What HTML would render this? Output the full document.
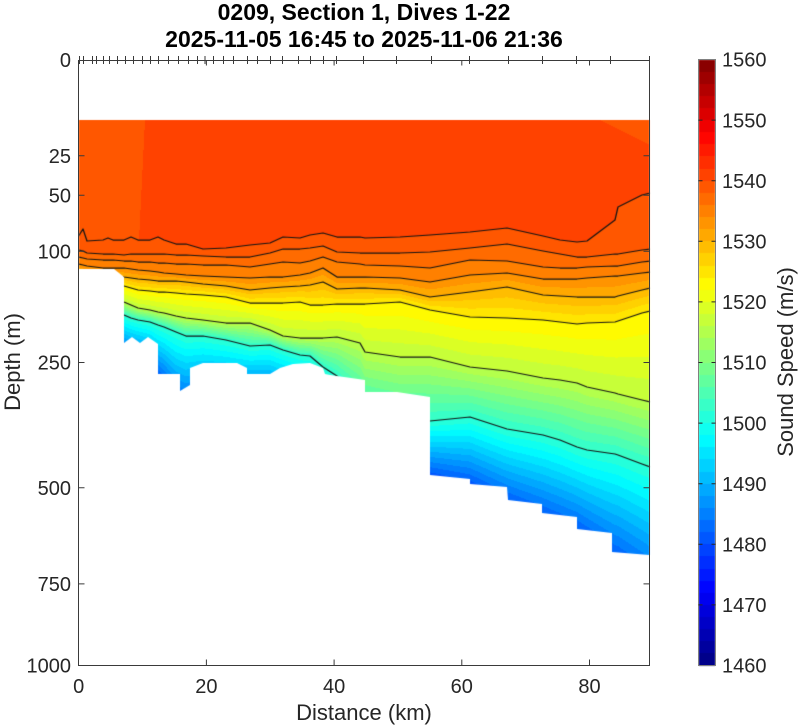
<!DOCTYPE html>
<html><head><meta charset="utf-8">
<style>
html,body{margin:0;padding:0;background:#fff;}
#wrap{position:relative;width:800px;height:725px;overflow:hidden;background:#fff;}
canvas,svg{position:absolute;left:0;top:0;}
text{font-family:"Liberation Sans",Arial,sans-serif;fill:#262626;}
</style></head><body>
<div id="wrap">
<canvas id="c" width="800" height="725"></canvas>
<svg width="800" height="725" viewBox="0 0 800 725" xmlns="http://www.w3.org/2000/svg">
<!-- title -->
<text x="364" y="20" text-anchor="middle" font-size="23" font-weight="bold" style="fill:#000">0209, Section 1, Dives 1-22</text>
<text x="364" y="47" text-anchor="middle" font-size="23" font-weight="bold" style="fill:#000">2025-11-05 16:45 to 2025-11-06 21:36</text>
<!-- axes box -->
<g stroke="#3a3a3a" stroke-width="1" fill="none">
<path d="M78.5 60.5 H649.5 V665.5 H78.5 Z"/>
<path d="M78.5 155.7h6M78.5 195.3h6M78.5 251.3h6M78.5 362.5h6M78.5 487.8h6M78.5 583.9h6"/>
<path d="M649.5 155.7h-6M649.5 195.3h-6M649.5 251.3h-6M649.5 362.5h-6M649.5 487.8h-6M649.5 583.9h-6"/>
<path d="M206.4 665.5v-6M334.1 665.5v-6M461.8 665.5v-6M589.5 665.5v-6"/>
<path d="M206.4 60.5v5M334.1 60.5v5M461.8 60.5v5M589.5 60.5v5"/>
<path d="M79.5 56v8M83.5 56v8M92.5 56v8M96.5 56v8M103.5 56v8M109.5 56v8M117.5 56v8M125.5 56v8M133.5 56v8M142.5 56v8M150.5 56v8M158.5 56v8M168.5 56v8M178.5 56v8M188.5 56v8M197.5 56v8M205 56v8M213.5 56v8M223.5 56v8M233.5 56v8M247.5 56v8M257.5 56v8M270.5 56v8M282.5 56v8M298.5 56v8M310.5 56v8M323.5 56v8M336.5 56v8M363.5 56v8M396.5 56v8M431.5 56v8M469.5 56v8M508.5 56v8M542.5 56v8M576.5 56v8M610.5 56v8M649.5 56v8"/>
</g>
<g font-size="20" text-anchor="end">
<text x="71" y="67.2">0</text>
<text x="71" y="162.9">25</text>
<text x="71" y="202.5">50</text>
<text x="71" y="258.5">100</text>
<text x="71" y="369.7">250</text>
<text x="71" y="495">500</text>
<text x="71" y="591.1">750</text>
<text x="71" y="672.7">1000</text>
</g>
<g font-size="20" text-anchor="middle">
<text x="78.7" y="693">0</text>
<text x="206.4" y="693">20</text>
<text x="334.1" y="693">40</text>
<text x="461.8" y="693">60</text>
<text x="589.5" y="693">80</text>
</g>
<text x="364" y="720" text-anchor="middle" font-size="22">Distance (km)</text>
<text transform="translate(20,362) rotate(-90)" text-anchor="middle" font-size="22">Depth (m)</text>
<rect x="698.5" y="59.5" width="17" height="606" fill="none" stroke="#808080" stroke-width="1"/>
<g stroke="#262626" stroke-width="1">
<path d="M698.5 604.9h4M698.5 544.3h4M698.5 483.7h4M698.5 423.1h4M698.5 362.5h4M698.5 301.9h4M698.5 241.3h4M698.5 180.7h4M698.5 120.1h4"/>
<path d="M715.5 604.9h-4M715.5 544.3h-4M715.5 483.7h-4M715.5 423.1h-4M715.5 362.5h-4M715.5 301.9h-4M715.5 241.3h-4M715.5 180.7h-4M715.5 120.1h-4"/>
</g>
<g font-size="20" text-anchor="start">
<text x="722" y="672.7">1460</text>
<text x="722" y="612.1">1470</text>
<text x="722" y="551.5">1480</text>
<text x="722" y="490.9">1490</text>
<text x="722" y="430.3">1500</text>
<text x="722" y="369.7">1510</text>
<text x="722" y="309.1">1520</text>
<text x="722" y="248.5">1530</text>
<text x="722" y="187.9">1540</text>
<text x="722" y="127.3">1550</text>
<text x="722" y="66.7">1560</text>
</g>
<text transform="translate(793,362) rotate(-90)" text-anchor="middle" font-size="22">Sound Speed (m/s)</text>
</svg>
</div>
<script>
(function(){
var cv=document.getElementById('c');var ctx=cv.getContext('2d');
var LV=[1540,1538,1536,1534,1530,1524,1516,1502,1486];
var S=[
[78,237,250,257,264,272,280,290,300,330],
[83,229,251,258,265,272,280,290,300,330],
[87,241,253,259,266,273,281,291,301,331],
[103,240,254,260,268,274,282,292,303,333],
[108,238,254,260,268,274,282,292,303,333],
[113,240,254,260,268,275,283,295,305,335],
[124,240,255,261,268,277,286,302,315,345],
[131,237,254,261,269,278,288,305,318,348],
[138,240,254,262,270,279,290,308,320,350],
[150,240,254,262,271,280,291,310,322,355],
[158,237,254,263,272,281,292,312,325,365],
[164,240,254,263,273,281,292,313,327,370],
[176,244,255,264,274,281,293,316,332,385],
[186,244,255,264,275,282,294,318,336,390],
[203,249,256,265,276,284,295,320,336,385],
[226,248,257,265,277,286,297,323,340,385],
[250,245,257,267,278,290,303,323,346,385],
[270,243,253,264,277,288,303,330,345,385],
[283,237,249,262,277,287,303,336,350,390],
[300,238,249,263,275,286,302,338,355,395],
[310,235,248,261,273,285,305,338,356,400],
[323,233,246,257,268,282,305,338,367,410],
[337,237,252,262,277,289,304,337,376,420],
[360,237,253,264,277,288,304,343,400,440],
[365,238,253,265,277,288,304,352,410,445],
[400,237,253,266,278,290,302,357,420,455],
[430,235,252,268,282,297,310,357,421,462],
[470,232,248,260,275,292,317,367,417,468],
[507,228,244,261,273,287,318,371,429,485],
[543,236,251,267,279,295,320,378,435,498],
[560,240,254,268,279,296,322,380,440,505],
[577,242,257,268,279,297,324,383,447,512],
[587,241,257,267,278,297,323,387,450,518],
[615,220,254,266,276,297,322,393,454,535],
[618,207,254,266,276,296,321,394,455,536],
[642,195,250,262,273,290,313,400,464,552],
[650,193,249,261,272,288,311,402,467,558]];
function iso(x){
  if(x<=S[0][0]) return S[0].slice(1);
  if(x>=S[S.length-1][0]) return S[S.length-1].slice(1);
  for(var i=0;i<S.length-1;i++){
    if(x>=S[i][0]&&x<=S[i+1][0]){
      var f=(x-S[i][0])/(S[i+1][0]-S[i][0]);var r=[];
      for(var k=1;k<S[i].length;k++) r.push(S[i][k]+(S[i+1][k]-S[i][k])*f);
      return r;
    }
  }
}
function cl(v){return v<0?0:(v>1?1:v);}
function jet(t){return [Math.round(255*cl(1.5-Math.abs(4*t-3))),Math.round(255*cl(1.5-Math.abs(4*t-2))),Math.round(255*cl(1.5-Math.abs(4*t-1)))];}
function topS(x,y){
  if(x<145-(y-120)*0.05) return 1539.5;
  if(x>600&&y<120+(x-600)*0.5) return 1539.5;
  return 1541;
}
function speed(x,y,L){
  if(y<=L[0]) return topS(x,y);
  for(var k=0;k<L.length-1;k++){
    if(y<=L[k+1]) return LV[k]+(LV[k+1]-LV[k])*(y-L[k])/(L[k+1]-L[k]);
  }
  var n=L.length-1;var sl=(LV[n]-LV[n-1])/(L[n]-L[n-1]);
  return LV[n]+sl*(y-L[n]);
}
function bandColor(s){
  var b=Math.floor((s-1460)/2); if(b<0)b=0; if(b>49)b=49;
  return jet((b*2+1)/100);
}
var off=document.createElement('canvas');off.width=800;off.height=725;
var oc=off.getContext('2d');
var x0=78,x1=651,y0=119,y1=562;
var img=oc.createImageData(x1-x0,y1-y0);
for(var x=x0;x<x1;x++){
  var L=iso(x+0.5);
  for(var y=y0;y<y1;y++){
    var c=bandColor(speed(x+0.5,y+0.5,L));
    var idx=((y-y0)*(x1-x0)+(x-x0))*4;
    img.data[idx]=c[0];img.data[idx+1]=c[1];img.data[idx+2]=c[2];img.data[idx+3]=255;
  }
}
oc.putImageData(img,x0,y0);
var P=[[79,120],[649.5,120],[649.5,555],[612,552],[612,533],[577,529],[577,517],[542,513],[542,504],[508,500],[507,487],[470,484],[470,479],[430,475],[430,397],[397,392],[365,392],[365,380],[330,375],[325,374],[323,368],[310,363],[293,364],[280,368],[270,374],[247,374],[247,368],[237,363],[203,363],[190,368],[190,385],[180,391],[180,374],[158,374],[158,344],[148,337],[140,343],[132,337],[124,343],[124,277],[114,269],[79,269]];
ctx.save();
ctx.beginPath();ctx.moveTo(P[0][0],P[0][1]);
for(var i=1;i<P.length;i++) ctx.lineTo(P[i][0],P[i][1]);
ctx.closePath();ctx.clip();
ctx.drawImage(off,0,0);
ctx.strokeStyle='#141414';ctx.lineWidth=1.25;ctx.lineJoin='round';
for(var k=1;k<=8;k++){
  ctx.beginPath();
  for(var i=0;i<S.length;i++){
    var xx=S[i][0],yy=S[i][k];
    if(i==0) ctx.moveTo(xx,yy); else ctx.lineTo(xx,yy);
  }
  ctx.stroke();
}
ctx.restore();
for(var b=0;b<50;b++){
  var c=jet((b*2+1)/100);
  var yt=Math.round(665.5-(b+1)*12.12),yb=Math.round(665.5-b*12.12);
  ctx.fillStyle='rgb('+c[0]+','+c[1]+','+c[2]+')';
  ctx.fillRect(699,yt,16,yb-yt);
}
})();
</script>
</body></html>
